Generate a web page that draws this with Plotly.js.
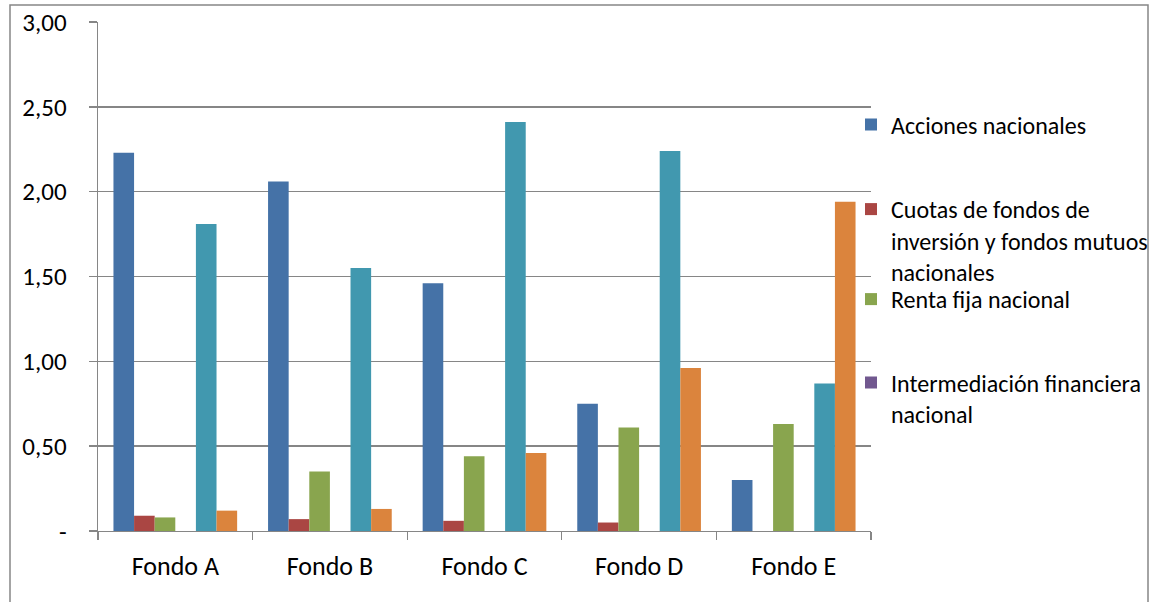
<!DOCTYPE html>
<html>
<head>
<meta charset="utf-8">
<script src="https://cdn.plot.ly/plotly-3.0.1.min.js"></script>
<style>
html,body{margin:0;padding:0;background:#fff;overflow:hidden;width:1153px;height:602px;}
#chart{width:1153px;height:602px;}
</style>
</head>
<body>
<div id="chart"></div>
<script>
const categories = ['Fondo A', 'Fondo B', 'Fondo C', 'Fondo D', 'Fondo E'];
const acciones = [2.23, 2.06, 1.46, 0.75, 0.30];
const cuotas = [0.09, 0.07, 0.06, 0.05, 0.00];
const rentaFija = [0.08, 0.35, 0.44, 0.61, 0.63];
const intermediacion = [0.00, 0.00, 0.00, 0.00, 0.00];
const serie5 = [1.81, 1.55, 2.41, 2.24, 0.87];
const serie6 = [0.12, 0.13, 0.46, 0.96, 1.94];
const yTickVals = [0, 0.5, 1, 1.5, 2, 2.5, 3];
const yTickText = ['-', '0,50', '1,00', '1,50', '2,00', '2,50', '3,00'];
const seriesNames = ['Acciones nacionales',
  'Cuotas de fondos de<br>inversión y fondos mutuos<br>nacionales',
  'Renta fija nacional',
  'Intermediación financiera<br>nacional',
  'Serie 5', 'Serie 6'];

const colors = ['#4572A7', '#AA4643', '#89A54E', '#71588F', '#4198AF', '#DB843D'];
const values = [acciones, cuotas, rentaFija, intermediacion, serie5, serie6];
const legendIds = ['legend', 'legend2', 'legend3', 'legend4', null, null];

const FONT = 'Carlito, Calibri, Lato, sans-serif';
const grid = '#868686';

// plot area in px
const L = 98, R = 871, T = 22, B = 531;
const W = R - L, H = B - T;
const px = x => (x - L) / W;
const py = y => (B - y) / H;

const traces = values.map((v, i) => {
  const t = {
    type: 'bar', x: categories, y: v, name: seriesNames[i],
    marker: {color: colors[i]},
    hoverinfo: 'y'
  };
  if (legendIds[i]) { t.legend = legendIds[i]; t.showlegend = true; }
  else t.showlegend = false;
  return t;
});

const legendX = px(851);
const mkLegend = (ycenter) => ({
  x: legendX, xanchor: 'left', y: py(ycenter), yanchor: 'middle',
  bgcolor: 'rgba(0,0,0,0)', borderwidth: 0,
  font: {family: FONT, size: 24, color: '#000'},
  valign: 'top', tracegroupgap: 0, itemwidth: 30
});

const layout = {
  width: 1153, height: 602,
  margin: {l: L, r: 1153 - R, t: T, b: 602 - B, pad: 0, autoexpand: false},
  paper_bgcolor: '#fff', plot_bgcolor: '#fff',
  font: {family: FONT, size: 26, color: '#000'},
  barmode: 'group', bargap: 0.2, bargroupgap: 0,
  xaxis: {
    type: 'category', showgrid: false, zeroline: false,
    showline: true, linecolor: grid, linewidth: 1.4,
    ticks: 'outside', tickson: 'boundaries', ticklen: 8, tickcolor: grid, tickwidth: 1.4,
    tickfont: {family: FONT, size: 26, color: '#000'},
    ticklabelstandoff: 11, automargin: false
  },
  yaxis: {
    range: [0, 3], tickvals: yTickVals, ticktext: yTickText,
    showgrid: true, gridcolor: grid, gridwidth: 1.4, zeroline: false,
    showline: true, linecolor: grid, linewidth: 1.4,
    ticks: 'outside', ticklen: 8, tickcolor: grid, tickwidth: 1.4,
    tickfont: {family: FONT, size: 25, color: '#000'},
    ticklabelstandoff: 17, automargin: false
  },
  legend: mkLegend(125),
  legend2: mkLegend(240.5),
  legend3: mkLegend(299.5),
  legend4: mkLegend(398.5),
  shapes: [{
    type: 'rect', xref: 'paper', yref: 'paper',
    x0: px(10), x1: px(1148), y0: py(640), y1: py(5),
    line: {color: grid, width: 1.5}, fillcolor: 'rgba(0,0,0,0)', layer: 'below'
  }],
  showlegend: true
};

Plotly.newPlot('chart', traces, layout, {displayModeBar: false, staticPlot: true});
</script>
</body>
</html>
